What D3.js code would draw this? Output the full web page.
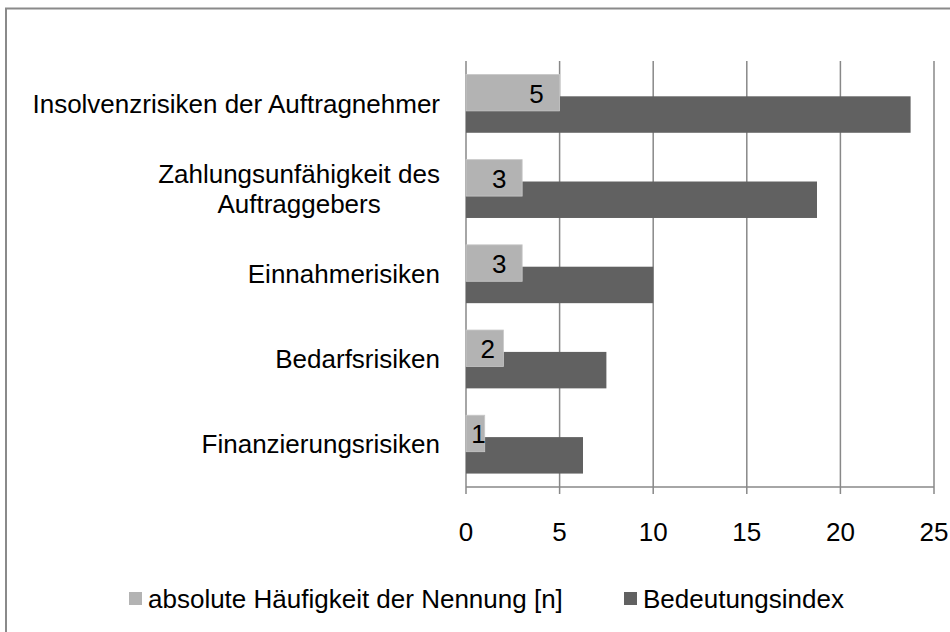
<!DOCTYPE html>
<html>
<head>
<meta charset="utf-8">
<script src="https://cdn.jsdelivr.net/npm/d3@7"></script>
<style>
  body { margin: 0; background: #fff; }
  text { font-family: "Liberation Sans", Arial, sans-serif; fill: #000; }
</style>
</head>
<body>
<div id="chart"></div>
<script>
// ---------------------- data ---------------------
var categories = [
  "Insolvenzrisiken der Auftragnehmer",
  "Zahlungsunfähigkeit des Auftraggebers",
  "Einnahmerisiken",
  "Bedarfsrisiken",
  "Finanzierungsrisiken"
];
var haeufigkeit = [5, 3, 3, 2, 1];
var bedeutung = [23.75, 18.75, 10, 7.5, 6.25];
var xTicks = [0, 5, 10, 15, 20, 25];
var seriesNames = ["absolute Häufigkeit der Nennung [n]", "Bedeutungsindex"];
var colors = ["#b3b3b3", "#616161"];

// ---------------------- svg + frame ---------------------
var svg = d3.select("#chart")
  .append("svg")
  .attr("width", 950)
  .attr("height", 632);

svg.append("rect")
  .attr("x", 6)
  .attr("y", 8.5)
  .attr("width", 970)
  .attr("height", 650)
  .attr("fill", "#fff")
  .attr("stroke", "#8a8a8a")
  .attr("stroke-width", 2);

// ---------------------- scales ---------------------
var x = d3.scaleLinear().domain([0, 25]).range([466, 934]);
var y = d3.scaleBand().domain(categories).range([61, 487]).padding(0);

var barH = y.bandwidth() * 0.428;
var shift = barH * 0.6 / 2;

// ---------------------- grid + axis ---------------------
svg.append("g")
  .selectAll("line")
  .data(xTicks)
  .enter()
  .append("line")
  .attr("x1", function(d) { return x(d); })
  .attr("x2", function(d) { return x(d); })
  .attr("y1", 61)
  .attr("y2", 494)
  .attr("stroke", "#888")
  .attr("stroke-width", 1.5);

svg.append("line")
  .attr("x1", x(0))
  .attr("x2", x(25))
  .attr("y1", 487)
  .attr("y2", 487)
  .attr("stroke", "#888")
  .attr("stroke-width", 1.5);

svg.append("g")
  .selectAll("text")
  .data(xTicks)
  .enter()
  .append("text")
  .text(function(d) { return d; })
  .attr("x", function(d) { return x(d); })
  .attr("y", 532)
  .attr("dominant-baseline", "central")
  .attr("text-anchor", "middle")
  .style("font-size", "26px");

// ---------------------- bars ---------------------
svg.append("g")
  .selectAll("rect")
  .data(bedeutung)
  .enter()
  .append("rect")
  .attr("x", x(0))
  .attr("y", function(d, i) { return y(categories[i]) + y.bandwidth() / 2 + shift - barH / 2; })
  .attr("width", function(d) { return x(d) - x(0); })
  .attr("height", barH)
  .attr("fill", colors[1]);

svg.append("g")
  .selectAll("rect")
  .data(haeufigkeit)
  .enter()
  .append("rect")
  .attr("x", x(0))
  .attr("y", function(d, i) { return y(categories[i]) + y.bandwidth() / 2 - shift - barH / 2; })
  .attr("width", function(d) { return x(d) - x(0); })
  .attr("height", barH)
  .attr("fill", colors[0])
  .attr("stroke", "#c8c8c8")
  .attr("stroke-width", 0.8);

// data labels of the light series
svg.append("g")
  .selectAll("text")
  .data(haeufigkeit)
  .enter()
  .append("text")
  .text(function(d) { return d; })
  .attr("x", function(d) {
    var w = x(d) - x(0);
    return w > 47 ? x(d) - 23 : (x(0) + x(d)) / 2 + 3;
  })
  .attr("y", function(d, i) { return y(categories[i]) + y.bandwidth() / 2 - shift + 1; })
  .attr("dominant-baseline", "central")
  .attr("text-anchor", "middle")
  .style("font-size", "26px");

// ---------------------- category labels ---------------------
var labelRight = 440;
var maxW = 420;
var lineH = 30;

categories.forEach(function(c) {
  var g = svg.append("text")
    .attr("text-anchor", "middle")
    .style("font-size", "26px");
  // wrap words by measured width
  var words = c.split(" ");
  var lines = [];
  var cur = "";
  var probe = g.append("tspan");
  words.forEach(function(w) {
    var test = cur ? cur + " " + w : w;
    probe.text(test);
    if (probe.node().getComputedTextLength() > maxW && cur) {
      lines.push(cur);
      cur = w;
    } else {
      cur = test;
    }
  });
  lines.push(cur);
  var widest = 0;
  lines.forEach(function(l) {
    probe.text(l);
    widest = Math.max(widest, probe.node().getComputedTextLength());
  });
  probe.remove();
  var cx = labelRight - widest / 2;
  var cy = y(c) + y.bandwidth() / 2;
  lines.forEach(function(l, k) {
    g.append("tspan")
      .attr("x", cx)
      .attr("y", cy + (k - (lines.length - 1) / 2) * lineH)
      .attr("dominant-baseline", "central")
      .text(l);
  });
});

// ---------------------- legend ---------------------
var legendX = [129, 624];
var leg = svg.append("g")
  .selectAll("g")
  .data(seriesNames)
  .enter()
  .append("g")
  .attr("transform", function(d, i) { return "translate(" + legendX[i] + ",592)"; });

leg.append("rect")
  .attr("width", 13)
  .attr("height", 13)
  .attr("fill", function(d, i) { return colors[i]; });

leg.append("text")
  .text(function(d) { return d; })
  .attr("x", 19)
  .attr("y", 6.5)
  .attr("dominant-baseline", "central")
  .style("font-size", "26px");
</script>
</body>
</html>
